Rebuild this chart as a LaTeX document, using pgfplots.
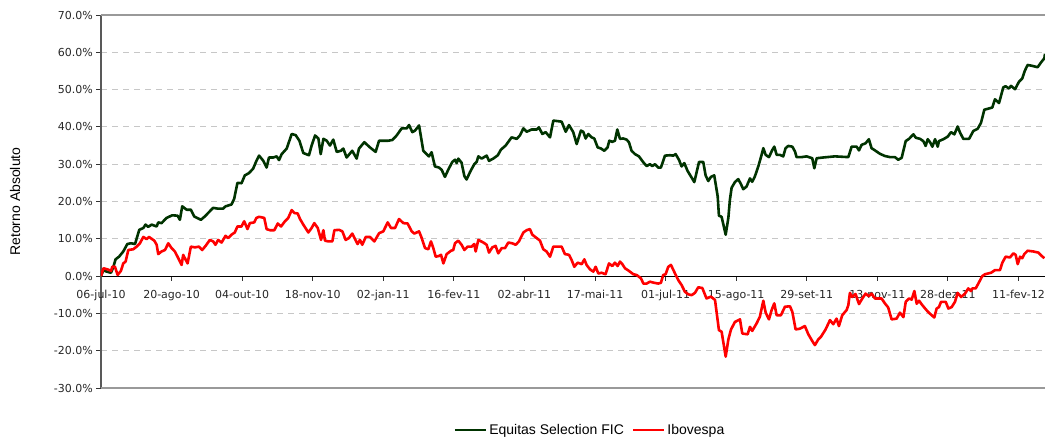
\documentclass[border=0pt]{standalone}
\usepackage{fontspec}
\setmainfont{DejaVu Sans}
\newfontfamily\arialfont{Liberation Sans}
\usepackage{pgfplots}
\pgfplotsset{compat=1.18}
\definecolor{eqgreen}{RGB}{0,51,0}
\definecolor{ibred}{RGB}{255,0,0}
\begin{document}
\begin{tikzpicture}
\path[use as bounding box] (0,0) rectangle (1045pt,437pt);
\begin{axis}[
  at={(101pt,49pt)}, anchor=south west,
  scale only axis, width=944pt, height=373pt,
  xmin=0, xmax=601.9, ymin=-30, ymax=70,
  axis x line=middle, axis y line=left,
  hide obscured x ticks=false, hide obscured y ticks=false,
  x axis line style={-, draw=black, line width=1.2pt},
  y axis line style={-, draw=black!65, line width=1.8pt},
  tick align=outside,
  major tick length=4.7pt,
  tick style={draw=black!80, line width=0.9pt},
  xtick={0,45,...,585},
  xticklabels={06-jul-10,20-ago-10,04-out-10,18-nov-10,02-jan-11,16-fev-11,02-abr-11,17-mai-11,01-jul-11,15-ago-11,29-set-11,13-nov-11,28-dez-11,11-fev-12},
  ytick={-30,-20,...,70},
  yticklabel={\pgfmathprintnumber[fixed,fixed zerofill,precision=1,assume math mode=true]{\tick}\%},
  ticklabel style={font=\fontsize{11}{13}\selectfont, text=black!85},
  xticklabel style={yshift=-6pt},
  ymajorgrids=true,
  major grid style={draw=black!22, line width=1pt, dash pattern=on 6pt off 5pt},
  extra y ticks={-30,70},
  extra y tick labels={},
  extra y tick style={ymajorgrids=true, major grid style={solid, draw=black!40, line width=1.8pt}, major tick length=0pt},
  ylabel={Retorno Absoluto},
  every axis y label/.style={at={(axis description cs:-0.0911,0.5)}, rotate=90, anchor=center, font=\arialfont\fontsize{14}{16}\selectfont},
  legend style={at={(axis description cs:0.518,-0.1126)}, anchor=center, draw=none, fill=none,
    font=\arialfont\fontsize{14}{16}\selectfont, /tikz/every even column/.append style={column sep=6pt}},
  legend columns=2,
  legend image code/.code={\draw[#1] (0pt,0pt) -- (31pt,0pt);},
]
\addplot[eqgreen, line width=2.6pt, line join=round] coordinates {
(0,0) (1.5,1.6) (3.6,1.2) (6.4,0.9) (7.9,2.5) (9.3,4.5) (11.5,5.2) (14.2,6.6) (16.8,8.6) (19.1,8.8) (21.7,8.6) (24.4,12.4) (27.0,12.9) (28.4,13.8) (30.1,13.2) (32.3,13.8) (35.5,13.3) (36.5,14.4) (38.6,14.2) (41.8,15.6) (45.4,16.3) (48.8,16.2) (50.3,15.1) (51.8,18.7) (54.6,17.8) (57.3,17.8) (59.4,16.0) (63.7,15.1) (66.2,16.0) (71.5,18.3) (74.3,18.1) (77.9,18.1) (79.4,18.7) (83.2,19.2) (84.9,20.7) (87.0,25.0) (89.6,24.9) (91.7,27.0) (94.3,27.6) (97.0,28.8) (99.1,30.9) (100.8,32.3) (103.5,30.9) (105.6,29.1) (107.1,31.8) (109.9,31.8) (112.0,32.1) (113.5,31.1) (115.2,32.7) (118.4,34.2) (121.6,38.1) (124.1,37.8) (126.5,36.3) (129.0,33.0) (132.6,32.4) (134.3,35.0) (136.5,37.7) (138.6,36.9) (140.1,32.7) (141.8,36.8) (143.9,36.3) (146.0,35.0) (148.1,36.6) (150.3,33.3) (153.0,33.6) (154.5,34.2) (156.6,31.8) (160.2,33.6) (163.0,31.5) (164.5,34.2) (167.9,35.9) (171.5,34.5) (175.1,33.3) (177.3,36.3) (183.2,36.3) (185.8,36.5) (188.5,37.7) (191.7,39.6) (194.9,39.6) (196.4,40.5) (198.5,38.6) (200.2,39.0) (202.8,40.4) (205.5,33.6) (207.6,32.7) (209.1,32.1) (210.8,33.2) (212.9,29.4) (215.5,29.1) (217.2,28.5) (219.3,26.6) (221.5,28.6) (224.0,30.6) (225.7,31.2) (226.8,30.3) (227.8,31.5) (229.9,30.4) (231.7,26.8) (233.1,25.9) (235.3,27.9) (238.0,30.0) (239.5,30.6) (240.6,32.1) (242.7,31.5) (245.9,32.3) (247.4,30.9) (250.1,31.5) (253.0,32.4) (255.0,33.9) (258.0,35.0) (261.8,37.2) (265.0,36.8) (267.1,37.7) (269.3,39.6) (271.4,38.7) (274.6,39.3) (277.8,39.3) (279.2,39.9) (281.4,38.1) (283.5,38.6) (286.3,37.2) (288.4,41.7) (293.7,41.4) (296.3,38.7) (298.4,40.5) (301.1,38.6) (303.3,35.4) (306.0,39.0) (307.5,38.7) (309.0,36.9) (310.7,38.1) (312.8,37.2) (314.5,36.9) (316.7,34.5) (318.8,34.2) (320.9,33.6) (323.0,34.5) (324.1,36.3) (326.0,36.0) (327.7,36.3) (329.2,39.3) (330.9,36.8) (333.0,36.9) (335.1,36.6) (336.6,35.9) (338.3,33.6) (340.5,32.7) (343.0,32.1) (345.8,30.5) (347.9,29.5) (350.0,30.0) (351.5,29.5) (353.2,30.0) (355.3,29.1) (357.0,29.1) (359.6,32.3) (362.8,32.4) (364.9,32.3) (366.4,32.7) (368.5,31.2) (370.2,29.4) (371.9,30.3) (374.0,28.2) (376.6,26.4) (378.3,25.2) (379.8,27.9) (381.3,30.6) (384.0,30.6) (385.5,27.0) (387.2,25.5) (388.9,26.6) (391.0,27.0) (393.2,21.4) (394.0,16.2) (395.7,15.9) (398.3,11.1) (400.0,15.6) (401.0,20.5) (402.1,23.7) (404.2,25.2) (406.3,26.0) (408.0,24.7) (409.5,23.3) (411.6,24.0) (413.8,26.2) (415.2,25.3) (416.9,26.7) (419.1,29.4) (421.2,32.5) (422.3,34.3) (423.8,32.5) (425.9,31.9) (428.0,33.8) (429.3,34.7) (430.8,32.5) (432.9,32.5) (435.0,32.1) (436.5,34.3) (438.2,34.9) (440.8,34.7) (442.5,33.4) (443.5,31.9) (446.7,31.9) (449.9,32.1) (453.5,31.6) (454.8,28.9) (456.3,31.6) (460.5,31.8) (467.9,32.1) (476.5,31.9) (478.6,34.7) (481.8,34.7) (483.3,33.7) (485.0,35.2) (487.5,35.6) (489.6,36.7) (491.3,34.3) (493.5,33.7) (496.6,32.8) (499.8,32.2) (503.0,31.9) (506.2,31.9) (508.3,31.2) (510.5,31.7) (513.1,36.2) (515.2,36.8) (518.0,38.0) (519.5,37.1) (522.2,36.8) (524.3,36.2) (525.8,34.9) (527.1,36.7) (528.6,35.9) (530.1,34.7) (531.8,36.7) (533.5,34.7) (534.3,36.2) (537.1,36.7) (539.9,37.4) (542.0,38.6) (544.1,38.0) (546.2,40.1) (547.7,38.5) (549.8,36.8) (553.5,36.8) (556.2,38.9) (559.0,39.5) (561.1,41.1) (563.2,44.6) (565.8,44.9) (568.3,45.2) (570.0,47.4) (572.6,46.4) (575.3,50.6) (576.8,50.9) (578.9,50.3) (580.2,51.0) (582.8,50.1) (585.3,52.1) (587.4,53.0) (589.1,55.1) (590.8,56.6) (593.4,56.4) (597.2,56.0) (599.4,57.3) (601.5,58.4) (601.9,59.6)
};
\addlegendentry{Equitas Selection FIC}
\addplot[ibred, line width=2.6pt, line join=round] coordinates {
(0,0) (1.5,2.1) (4.2,1.8) (6.4,1.4) (7.2,2.5) (8.9,2.5) (10.6,0.3) (12.7,1.4) (14.2,3.4) (15.7,3.9) (17.4,7.0) (20.6,7.2) (22.7,7.9) (24.8,8.8) (27.0,10.5) (29.1,9.9) (30.6,10.5) (34.0,9.5) (35.5,8.4) (36.5,5.9) (38.6,6.6) (40.8,7.0) (42.9,8.8) (45.0,7.5) (47.1,6.6) (48.8,5.2) (51.4,3.0) (52.4,5.7) (55.2,3.4) (57.3,7.9) (59.9,7.7) (62.4,7.9) (64.5,7.0) (66.7,8.1) (69.4,9.7) (71.5,9.3) (73.0,8.4) (74.7,9.7) (76.9,9.0) (79.4,10.8) (81.1,10.2) (83.2,11.1) (85.3,11.7) (87.0,13.3) (89.6,13.3) (91.3,14.7) (93.4,12.6) (94.9,14.2) (97.7,14.4) (99.1,15.6) (100.8,15.9) (104.1,15.6) (105.6,12.6) (107.8,12.3) (110.5,12.3) (112.7,14.1) (114.8,13.3) (117.3,14.7) (119.4,15.6) (121.6,17.7) (123.3,16.9) (125.4,16.8) (126.9,15.3) (129.0,13.8) (132.2,11.7) (134.3,12.9) (136.0,14.2) (138.2,12.9) (140.3,9.7) (141.8,12.3) (142.8,9.5) (145.0,9.3) (147.5,9.3) (148.8,12.3) (151.8,12.4) (153.9,12.0) (156.0,9.7) (158.1,10.2) (160.2,11.4) (162.0,9.9) (163.6,8.6) (165.1,9.7) (166.6,8.4) (168.8,10.5) (171.5,10.5) (174.3,9.3) (177.3,11.5) (180.0,12.0) (182.8,14.4) (184.9,12.9) (187.5,12.9) (190.0,15.3) (192.8,14.2) (195.5,14.1) (198.1,12.0) (199.8,11.4) (202.8,12.0) (204.5,10.2) (206.6,7.5) (208.7,7.2) (210.4,9.3) (211.9,7.5) (213.4,5.2) (215.5,5.4) (216.8,5.7) (218.3,3.4) (220.4,5.9) (223.2,6.8) (224.6,7.0) (225.7,8.8) (227.8,9.5) (229.9,8.4) (231.7,7.0) (233.8,7.9) (236.3,7.9) (238.0,8.6) (238.9,6.6) (240.6,9.7) (243.8,9.0) (245.9,8.4) (247.4,6.3) (249.5,7.7) (251.6,8.1) (253.3,6.1) (255.5,7.5) (257.6,7.5) (259.7,9.0) (262.2,8.8) (264.4,8.4) (266.5,9.3) (269.3,11.7) (271.4,12.3) (273.5,12.6) (275.0,11.1) (277.8,10.2) (279.9,9.5) (282.0,7.2) (284.1,6.6) (286.3,5.2) (288.4,7.9) (293.7,7.9) (295.8,5.9) (298.4,5.7) (300.1,4.3) (301.8,2.5) (303.9,3.6) (306.5,3.2) (308.2,4.5) (309.6,3.0) (311.8,1.8) (313.9,1.2) (315.4,2.5) (317.1,0.7) (319.2,0.9) (321.7,0.5) (323.9,3.4) (326.0,2.7) (327.7,3.6) (329.4,2.7) (330.9,3.9) (332.4,3.2) (334.1,2.1) (336.6,1.4) (339.4,0.5) (341.5,0.3) (344.3,-0.6) (345.8,-2.0) (347.9,-2.0) (350.0,-1.5) (352.8,-1.8) (355.3,-2.0) (357.0,-1.8) (358.5,0.3) (360.0,0.5) (361.7,2.5) (363.4,3.0) (366.0,0.7) (368.1,-1.1) (370.2,-2.4) (372.3,-4.2) (374.5,-4.9) (376.6,-5.1) (378.7,-4.5) (380.8,-3.0) (383.4,-3.2) (386.1,-6.0) (388.9,-5.5) (391.5,-6.4) (394.0,-14.5) (395.7,-14.9) (398.3,-21.6) (400.0,-17.0) (401.7,-14.3) (404.2,-12.3) (407.4,-11.6) (408.9,-15.4) (412.3,-15.6) (413.8,-13.6) (415.2,-14.7) (418.0,-12.7) (420.1,-10.9) (422.3,-6.6) (423.8,-9.8) (425.9,-11.6) (427.6,-9.1) (429.3,-7.3) (430.8,-10.5) (433.5,-10.5) (436.1,-8.2) (439.3,-8.1) (440.8,-9.6) (442.9,-14.3) (445.6,-14.1) (448.8,-13.4) (451.0,-15.6) (453.5,-17.4) (455.2,-18.5) (457.3,-17.0) (459.0,-16.3) (462.0,-14.3) (464.8,-11.8) (466.9,-12.9) (469.0,-11.4) (470.5,-13.4) (472.6,-10.5) (475.4,-9.1) (476.5,-7.8) (477.5,-4.5) (479.0,-5.6) (481.1,-4.8) (483.3,-7.5) (485.4,-6.0) (487.5,-4.7) (489.6,-5.4) (491.3,-4.7) (493.5,-6.0) (497.7,-6.0) (499.8,-7.3) (501.9,-8.4) (504.1,-11.6) (507.3,-11.4) (509.4,-9.8) (511.6,-11.0) (513.1,-6.9) (515.2,-6.0) (516.9,-6.3) (518.6,-4.0) (520.1,-7.4) (521.6,-6.6) (523.7,-7.8) (526.5,-9.2) (528.6,-10.1) (531.3,-11.1) (532.8,-8.7) (534.3,-8.3) (535.6,-6.9) (538.6,-6.9) (540.3,-8.7) (542.4,-8.3) (544.5,-6.9) (546.2,-4.5) (548.4,-5.6) (550.9,-4.7) (553.0,-3.3) (554.7,-4.0) (555.6,-3.3) (557.7,-3.3) (559.4,-2.0) (561.9,0.0) (563.7,0.5) (567.5,0.9) (570.0,1.6) (573.2,1.6) (574.7,3.6) (576.8,5.2) (579.6,5.0) (581.7,6.1) (583.2,5.7) (584.5,3.2) (586.0,5.2) (587.4,4.8) (588.7,5.9) (590.8,6.8) (594.5,6.6) (597.7,6.3) (599.8,5.4) (601.5,4.8)
};
\addlegendentry{Ibovespa}
\end{axis}
\end{tikzpicture}
\end{document}
